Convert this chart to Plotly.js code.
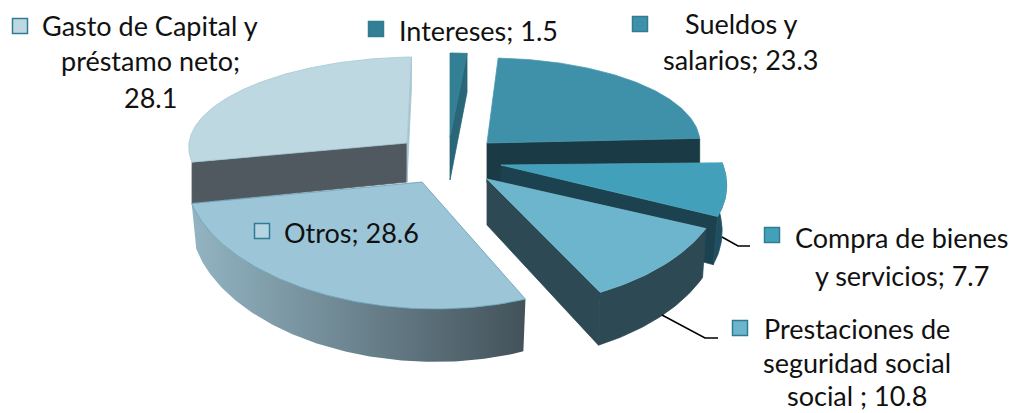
<!DOCTYPE html>
<html><head><meta charset="utf-8">
<script src="https://cdn.plot.ly/plotly-3.0.1.min.js"></script>
<style>html,body{margin:0;padding:0;background:#fff}#c{width:1013px;height:413px}</style>
</head><body><div id="c"></div>
<script>
// Data
const categories = ["Intereses","Sueldos y salarios","Compra de bienes y servicios","Prestaciones de seguridad social social","Otros","Gasto de Capital y préstamo neto"];
const values = [1.5,23.3,7.7,10.8,28.6,28.1];
const labelLines = [
  ["Intereses; 1.5"],
  ["Sueldos y","salarios; 23.3"],
  ["Compra de bienes","y servicios; 7.7"],
  ["Prestaciones de","seguridad social","social ; 10.8"],
  ["Otros; 28.6"],
  ["Gasto de Capital y","préstamo neto;","28.1"]
];

// Styling / projection of the tilted, exploded pie (one entry per slice)
const START_ANGLE = -2.4;
const geom = [
 {cx:450,cy:137,rx:181,ry:84,off:2.4,sk:0,d:43,by:1.05,bx:1,top:"#337f95",edge:"#337f95",cutEnd:"#2a6678"},
 {cx:487,cy:143,rx:213,ry:85,off:0,sk:0,d:40,by:1,bx:1,top:"#3f90a9",edge:"#4d9ab2",cutEnd:"#1a3a45"},
 {cx:501,cy:165,rx:222,ry:115,off:2,sk:0.35,d:44,by:1.08,bx:.98,top:"#43a0bb",edge:"#4fa8c1",cutEnd:"#1d424f",outer:"#1f4f60"},
 {cx:487,cy:179,rx:237,ry:129,off:-2,sk:0,d:46,by:1.06,bx:.985,top:"#6db5cd",edge:"#7abcd1",cutEnd:"#2d4a54",outer:"#2d4a54"},
 {cx:422,cy:182,rx:236,ry:127,off:3.8,sk:0.105,d:44,by:1.07,bx:.98,top:"#9cc6d7",edge:"#5f9db3",outerGrad:["#93b4c2","#43525a"]},
 {cx:407,cy:143,rx:218,ry:86,off:.7,sk:-0.127,d:39,by:1.1,bx:1,top:"#bed8e2",edge:"#a5c9d6",cutStart:"#50595f",cutEnd:"#a7c4cf"}
];
const drawOrder = [0,5,1,2,3,4];
const legendKeys = [
 {x:376,y:29,c:"#337f95"},{x:640,y:24,c:"#3f90a9"},{x:772,y:235,c:"#43a0bb"},
 {x:740,y:328,c:"#6db5cd"},{x:262,y:231,c:"#bed8e2",fill:"#b4d5e1"},{x:20,y:26,c:"#bed8e2"}
];
const labelPos = [
 {x:478,ys:[30]},{x:741,ys:[23,59]},{x:902,ys:[237,275]},
 {x:857,ys:[328,362,395]},{x:351,ys:[232]},{x:150,ys:[25,60,97]}
];
const leaders = [
 {xs:[722,738,750],ys:[237,246,246]},
 {xs:[662,705,718],ys:[315,338,338]}
];

// Slice angles come from the values
const total = values.reduce((a,b)=>a+b,0);
let acc = START_ANGLE;
const spans = values.map(v=>{const a=acc; acc+=v/total*360; return [a,acc];});

const rad = Math.PI/180;
function topPt(g,t){const y=-g.ry*Math.cos((t+g.off)*rad);
  return [g.cx+g.rx*Math.sin((t+g.off)*rad)+g.sk*y, g.cy+y];}
function botPt(g,t){const y=-g.ry*Math.cos((t+g.off)*rad);
  return [g.cx+(g.rx*Math.sin((t+g.off)*rad)+g.sk*y)*g.bx, g.cy+y*g.by+g.d];}
function arc(fn,g,a,b){const n=Math.max(2,Math.ceil(Math.abs(b-a)));const p=[];
  for(let i=0;i<=n;i++)p.push(fn(g,a+(b-a)*i/n));return p;}
function poly(pts,color,lineColor,extra){
  return Object.assign({type:"scatter",mode:"lines",x:pts.map(p=>p[0]),y:pts.map(p=>p[1]),
    fill:"toself",fillcolor:color,line:{color:lineColor||color,width:.8},hoverinfo:"skip",showlegend:false},extra||{});
}
const traces=[];
drawOrder.forEach(i=>{
  const g=geom[i],[a,b]=spans[i];
  const apex=[g.cx,g.cy],apexB=[g.cx,g.cy+g.d];
  if(g.cutStart){traces.push(poly([apex,topPt(g,a),botPt(g,a),apexB,apex],g.cutStart));}
  if(g.cutEnd){traces.push(poly([apex,topPt(g,b),botPt(g,b),apexB,apex],g.cutEnd));}
  if(g.outer||g.outerGrad){
    const pts=arc(topPt,g,a,b).concat(arc(botPt,g,b,a));pts.push(pts[0]);
    if(g.outerGrad){
      traces.push(poly(pts,"#6f909e","#6f909e",{fillgradient:{type:"horizontal",
        colorscale:[[0,g.outerGrad[0]],[1,g.outerGrad[1]]]},line:{width:0,color:"rgba(0,0,0,0)"}}));
    } else traces.push(poly(pts,g.outer));
  }
  const t=[apex].concat(arc(topPt,g,a,b));t.push(apex);
  traces.push(poly(t,g.top,g.edge));
});
// Leader lines
leaders.forEach(l=>traces.push({type:"scatter",mode:"lines",x:l.xs,y:l.ys,line:{color:"#000",width:1.5},hoverinfo:"skip",showlegend:false}));
// Legend keys
traces.push({type:"scatter",mode:"markers",x:legendKeys.map(k=>k.x),y:legendKeys.map(k=>k.y),
  marker:{symbol:"square",size:15,color:legendKeys.map(k=>k.fill||k.c),line:{color:"#2f7c93",width:1.5}},hoverinfo:"skip",showlegend:false});

const annotations=[];
labelLines.forEach((ls,i)=>ls.forEach((s,j)=>annotations.push({x:labelPos[i].x,y:labelPos[i].ys[j],xref:"x",yref:"y",
  text:s,showarrow:false,xanchor:"center",yanchor:"middle",font:{family:"Lato, Carlito, sans-serif",size:27,color:"#111"}})));

Plotly.newPlot("c",traces,{
  width:1013,height:413,margin:{l:0,r:0,t:0,b:0},paper_bgcolor:"#fff",plot_bgcolor:"#fff",
  xaxis:{range:[0,1013],visible:false,fixedrange:true},
  yaxis:{range:[413,0],visible:false,fixedrange:true},
  annotations:annotations,showlegend:false
},{displayModeBar:false,staticPlot:true});
</script></body></html>
